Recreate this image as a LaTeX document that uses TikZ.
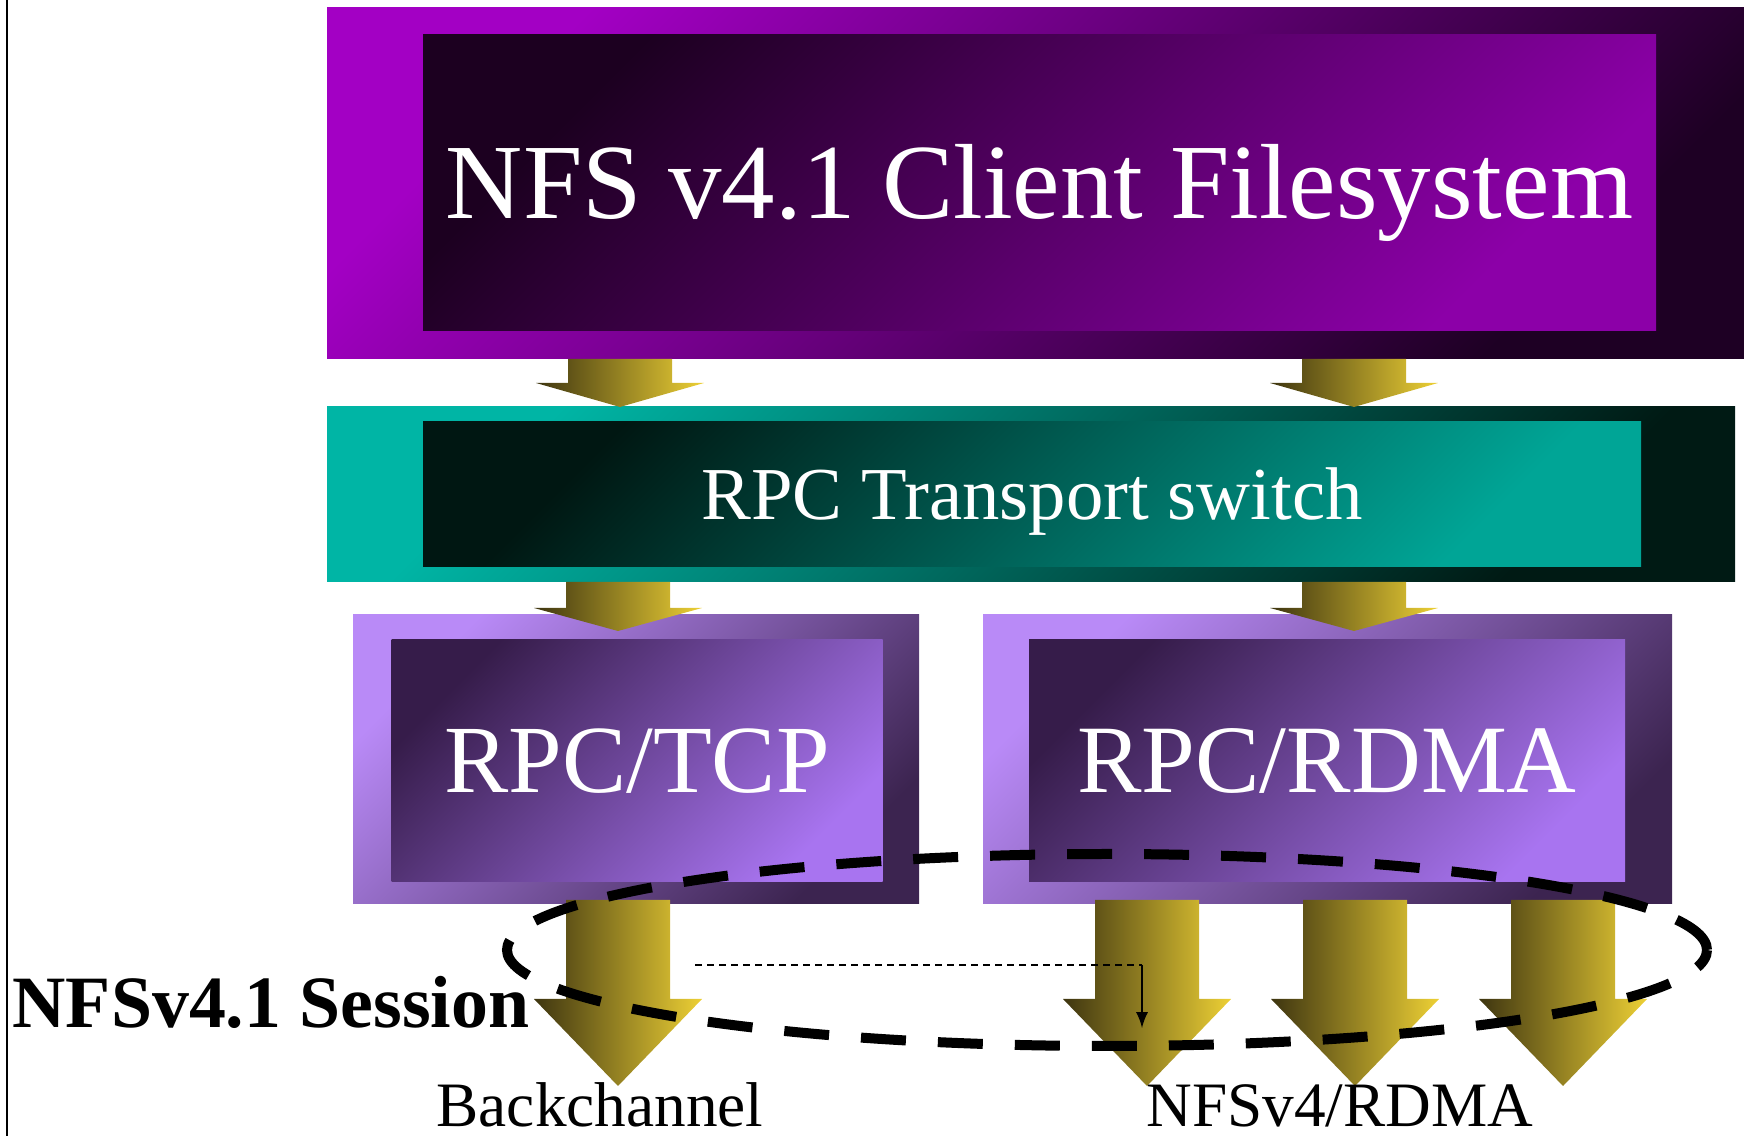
\documentclass[tikz,border=0pt]{standalone}
\usepackage{fontspec}
\setmainfont{Liberation Serif}
\usepackage{xcolor}
\definecolor{fsOuterLight}{HTML}{A300C4}
\definecolor{fsOuterDark}{HTML}{1E0024}
\definecolor{fsInnerDark}{HTML}{1C0020}
\definecolor{fsInnerLight}{HTML}{8C00A8}
\definecolor{swOuterLight}{HTML}{00B5A5}
\definecolor{swOuterDark}{HTML}{001A14}
\definecolor{swInnerDark}{HTML}{001712}
\definecolor{swInnerLight}{HTML}{00A596}
\definecolor{trOuterLight}{HTML}{B98AF7}
\definecolor{trOuterDark}{HTML}{3C2450}
\definecolor{trInnerDark}{HTML}{361C4A}
\definecolor{trInnerLight}{HTML}{A874F0}
\definecolor{goldDark}{HTML}{3E3510}
\definecolor{goldLight}{HTML}{EDD035}
\usepackage{tikz}
\usetikzlibrary{arrows}

\newcommand{\blockarrow}[4]{%
  \shade [goldarrow] (#1-5.2, #2) -- (#1+5.2, #2) -- (#1+5.2, #3)
    -- (#1+8.4, #3) -- (#1, #4) -- (#1-8.4, #3) -- (#1-5.2, #3) -- cycle;}

\tikzset{
  layerbox/.style={shade, inner sep=0pt, outer sep=0pt, text=white},
  fsouter/.style={layerbox, top color=fsOuterLight, bottom color=fsOuterDark, shading angle=45},
  fsinner/.style={layerbox, top color=fsInnerDark, bottom color=fsInnerLight, shading angle=45},
  swouter/.style={layerbox, top color=swOuterLight, bottom color=swOuterDark, shading angle=45},
  swinner/.style={layerbox, top color=swInnerDark, bottom color=swInnerLight, shading angle=45},
  trouter/.style={layerbox, top color=trOuterLight, bottom color=trOuterDark, shading angle=45},
  trinner/.style={layerbox, top color=trInnerDark, bottom color=trInnerLight, shading angle=45},
  goldarrow/.style={left color=goldDark, right color=goldLight},
  sessionline/.style={line width=1mm, dash pattern=on 4.5mm off 3.2mm},
}

\begin{document}
\begin{tikzpicture}[x=1mm, y=-1mm]

    \useasboundingbox (0, 0) rectangle (174.4, 113.6);
    \draw [line width=0.25mm] (0.7, 0) -- (0.7, 113.6);

    \node [fsouter, minimum width=141.7mm, minimum height=35.1mm]
    (fsback) at (103.55, 18.35) {};
    \node [fsinner, minimum width=123.3mm, minimum height=29.6mm,
      font=\fontsize{30.4}{30.4}\selectfont, text height=7.1mm, text depth=0pt]
    (fs) at (103.95, 18.3) {NFS v4.1 Client Filesystem};

    \node [swouter, minimum width=140.8mm, minimum height=17.5mm]
    (switchback) at (103.1, 49.45) {};
    \node [swinner, minimum width=121.8mm, minimum height=14.5mm,
      font=\fontsize{21.25}{21.25}\selectfont, text height=4.95mm, text depth=0pt]
    (switch) at (103.2, 49.45) {RPC Transport switch};

    \node [trouter, minimum width=56.6mm, minimum height=28.9mm]
    (tcpback) at (63.6, 75.95) {};
    \node [trinner, minimum width=49.1mm, minimum height=24.2mm,
      font=\fontsize{27.4}{27.4}\selectfont, text height=6.4mm, text depth=0pt]
    (tcp) at (63.7, 76.1) {RPC/TCP};

    \node [trouter, minimum width=68.9mm, minimum height=28.9mm]
    (rdmaback) at (132.75, 75.95) {};
    \node [trinner, minimum width=59.6mm, minimum height=24.2mm,
      font=\fontsize{27.5}{27.5}\selectfont, text height=6.4mm, text depth=0pt]
    (rdma) at (132.7, 76.1) {RPC/RDMA};

    \blockarrow{62.0}{35.9}{38.3}{40.7}
    \blockarrow{135.4}{35.9}{38.3}{40.7}
    \blockarrow{61.8}{58.2}{60.8}{63.1}
    \blockarrow{135.4}{58.2}{60.8}{63.1}

    \blockarrow{61.8}{90.0}{99.9}{108.6}
    \blockarrow{114.7}{90.0}{99.9}{108.6}
    \blockarrow{135.5}{90.0}{99.9}{108.6}
    \blockarrow{156.3}{90.0}{99.9}{108.6}

    \draw [sessionline] (110.7, 95.0) ellipse [x radius=60mm, y radius=9.6mm];

    \coordinate (backstart) at (69.5, 96.5);
    \coordinate (backbend) at (114.2, 96.5);
    \coordinate (backend) at (114.2, 102.8);
    \draw [line width=0.2mm, dash pattern=on 0.7mm off 0.5mm] (backstart) -- (backbend);
    \draw [line width=0.2mm, -latex] (backbend) -- (backend);

    \node [anchor=base west, inner sep=0pt, font=\bfseries\fontsize{21}{21}\selectfont]
    (session) at (1.2, 102.8) {NFSv4.1 Session};
    \node [anchor=base, inner sep=0pt, font=\fontsize{18}{18}\selectfont]
    (backlabel) at (60.0, 112.6) {Backchannel};
    \node [anchor=base, inner sep=0pt, font=\fontsize{18}{18}\selectfont]
    (rdmalabel) at (134.0, 112.6) {NFSv4/RDMA};

  \end{tikzpicture}
\end{document}
